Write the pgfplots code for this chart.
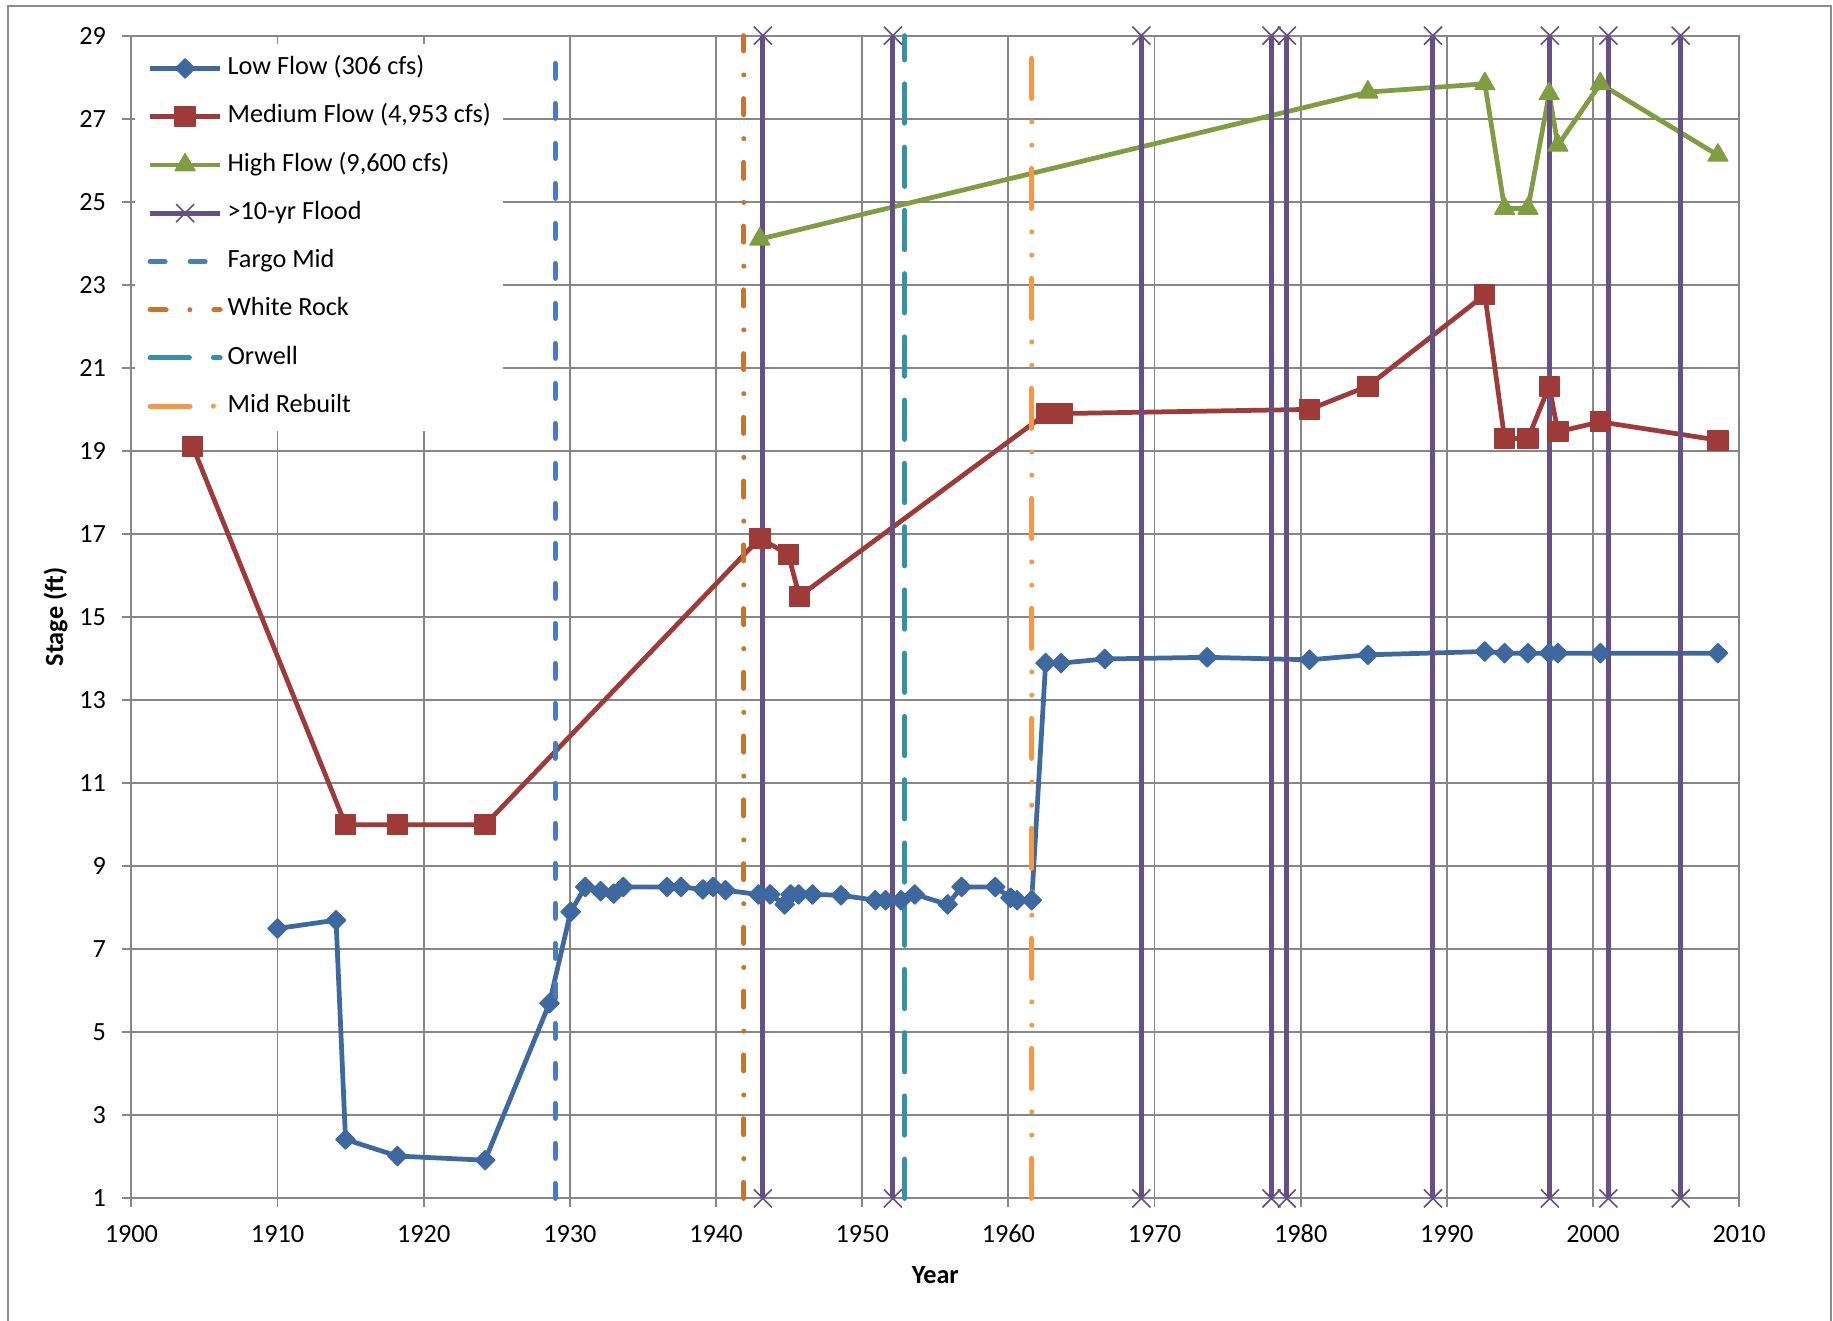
\documentclass[border=0pt]{standalone}
\usepackage{fontspec}
\setmainfont{Carlito}
\usepackage{pgfplots}
\pgfplotsset{compat=1.18}

\definecolor{lowblue}{HTML}{3D69A0}
\definecolor{medred}{HTML}{9E3B38}
\definecolor{highgreen}{HTML}{7F9D41}
\definecolor{floodpurple}{HTML}{654F88}
\definecolor{fargoblue}{HTML}{4A7EBB}
\definecolor{whiterock}{HTML}{C8742F}
\definecolor{orwellteal}{HTML}{3591A8}
\definecolor{midorange}{HTML}{F79646}
\definecolor{gridgray}{HTML}{878787}
\definecolor{framegray}{HTML}{8C8C8C}

\begin{document}
\begin{tikzpicture}[font=\fontsize{10.5}{12.6}\selectfont]
\useasboundingbox (0,0) rectangle (733.2pt,528pt);
\draw[framegray, line width=0.8pt] (3.2pt,-5pt) -- (3.2pt,525.6pt) -- (732.4pt,525.6pt) -- (732.4pt,-5pt);
\begin{axis}[
    at={(52.56pt,48.64pt)}, anchor=south west,
    scale only axis, width=643.1pt, height=465.1pt,
    xmin=1900, xmax=2010, ymin=1, ymax=29,
    xtick={1900,1910,...,2010},
    ytick={1,3,...,29},
    grid=major,
    major grid style={gridgray, line width=0.75pt},
    axis line style={gridgray, line width=0.75pt},
    tick style={gridgray, line width=0.75pt},
    tick align=outside, tick pos=left, major tick length=3.6pt,
    clip=false,
    /pgf/number format/assume math mode=true,
    /pgf/number format/1000 sep={},
    xticklabel style={anchor=base, inner sep=0pt, yshift=-14pt},
    yticklabel style={anchor=east, inner sep=0pt, xshift=-6.4pt},
    xlabel={\bfseries Year},
    ylabel={\bfseries Stage (ft)},
    xlabel style={at={(axis description cs:0.5,-0.0735)}, anchor=base, inner sep=0pt},
    ylabel style={at={(axis description cs:-0.0424,0.5)}, anchor=base, inner sep=0pt},
    legend cell align=left,
    legend style={at={(0.002,0.9933)}, anchor=north west, draw=none, fill=white,
        inner xsep=5pt, inner ysep=4.8pt, row sep=9.3pt, column sep=2pt,
        nodes={inner sep=0pt, text height=7.5pt, text depth=2.5pt}},
    legend image code/.code={\draw[mark repeat=2, mark phase=2, #1]
        plot coordinates {(0pt,0pt) (14pt,0pt) (28pt,0pt)};},
]
% Low Flow (306 cfs)
\addplot[lowblue, line width=1.9pt, line join=round, mark=square*, mark size=2.75pt,
    mark options={rotate=45, line width=0.5pt}] coordinates {
    (1910.0,7.5) (1914.0,7.7) (1914.65,2.42) (1918.2,2.02) (1924.2,1.92)
    (1928.6,5.7) (1930.05,7.9) (1931.05,8.5) (1932.1,8.4) (1933.0,8.34)
    (1933.65,8.5) (1936.65,8.5) (1937.6,8.5) (1939.1,8.44) (1939.8,8.5)
    (1940.65,8.42) (1942.9,8.32) (1943.7,8.32) (1944.7,8.08) (1945.1,8.32)
    (1945.65,8.32) (1946.6,8.32) (1948.55,8.3) (1950.9,8.18) (1951.6,8.18)
    (1952.65,8.18) (1953.6,8.32) (1955.85,8.08) (1956.8,8.5) (1959.1,8.5)
    (1960.15,8.24) (1960.6,8.18) (1961.6,8.18) (1962.55,13.89) (1963.6,13.89)
    (1966.6,13.99) (1973.6,14.03) (1980.6,13.97) (1984.6,14.09) (1992.6,14.17)
    (1993.95,14.13) (1995.55,14.13) (1997.0,14.13) (1997.6,14.13) (2000.5,14.13)
    (2008.55,14.13)
};
\addlegendentry{Low Flow (306 cfs)}
% Medium Flow (4,953 cfs)
\addplot[medred, line width=1.9pt, line join=round, mark=square*, mark size=4pt,
    mark options={line width=0.5pt}] coordinates {
    (1904.2,19.1) (1914.65,10.0) (1918.2,10.0) (1924.2,10.0) (1943.0,16.9)
    (1944.95,16.5) (1945.7,15.5) (1962.6,19.9) (1963.7,19.9) (1980.6,20.0)
    (1984.6,20.56) (1992.6,22.76) (1993.95,19.3) (1995.55,19.3) (1997.0,20.56)
    (1997.6,19.46) (2000.5,19.7) (2008.55,19.26)
};
\addlegendentry{Medium Flow (4,953 cfs)}
% High Flow (9,600 cfs)
\addplot[highgreen, line width=1.9pt, line join=round, mark=triangle*, mark size=4.6pt,
    mark options={line width=0.5pt}] coordinates {
    (1943.0,24.1) (1984.6,27.64) (1992.6,27.84) (1993.95,24.84) (1995.55,24.84)
    (1997.0,27.6) (1997.6,26.36) (2000.5,27.84) (2008.55,26.12)
};
\addlegendentry{High Flow (9,600 cfs)}
% >10-yr Flood
\addplot[floodpurple, line width=2pt, unbounded coords=jump, mark=x, mark size=5.1pt,
    mark options={line width=0.65pt}] coordinates {
    (1943.2,1) (1943.2,29) (1943.2,nan)
    (1952.1,1) (1952.1,29) (1952.1,nan)
    (1969.1,1) (1969.1,29) (1969.1,nan)
    (1978.0,1) (1978.0,29) (1978.0,nan)
    (1979.05,1) (1979.05,29) (1979.05,nan)
    (1989.05,1) (1989.05,29) (1989.05,nan)
    (1997.05,1) (1997.05,29) (1997.05,nan)
    (2001.05,1) (2001.05,29) (2001.05,nan)
    (2006.0,1) (2006.0,29)
};
\addlegendentry{>10-yr Flood}
% Fargo Mid
\addplot[fargoblue, line width=2pt, line cap=round,
    dash pattern=on 6pt off 10pt] coordinates {(1929.0,1) (1929.0,28.7)};
\addlegendentry{Fargo Mid}
% White Rock
\addplot[whiterock, line width=2pt, line cap=round,
    dash pattern=on 6.4pt off 9.5pt on 0pt off 9.6pt] coordinates {(1941.9,1) (1941.9,29)};
\addlegendentry{White Rock}
% Orwell
\addplot[orwellteal, line width=2pt, line cap=round,
    dash pattern=on 15.7pt off 9.6pt] coordinates {(1952.9,1) (1952.9,29)};
\addlegendentry{Orwell}
% Mid Rebuilt
\addplot[midorange, line width=2pt, line cap=round,
    dash pattern=on 16pt off 9.3pt on 0pt off 9.3pt on 0pt off 9.4pt] coordinates {(1961.6,1) (1961.6,29)};
\addlegendentry{Mid Rebuilt}
\end{axis}
\end{tikzpicture}
\end{document}
